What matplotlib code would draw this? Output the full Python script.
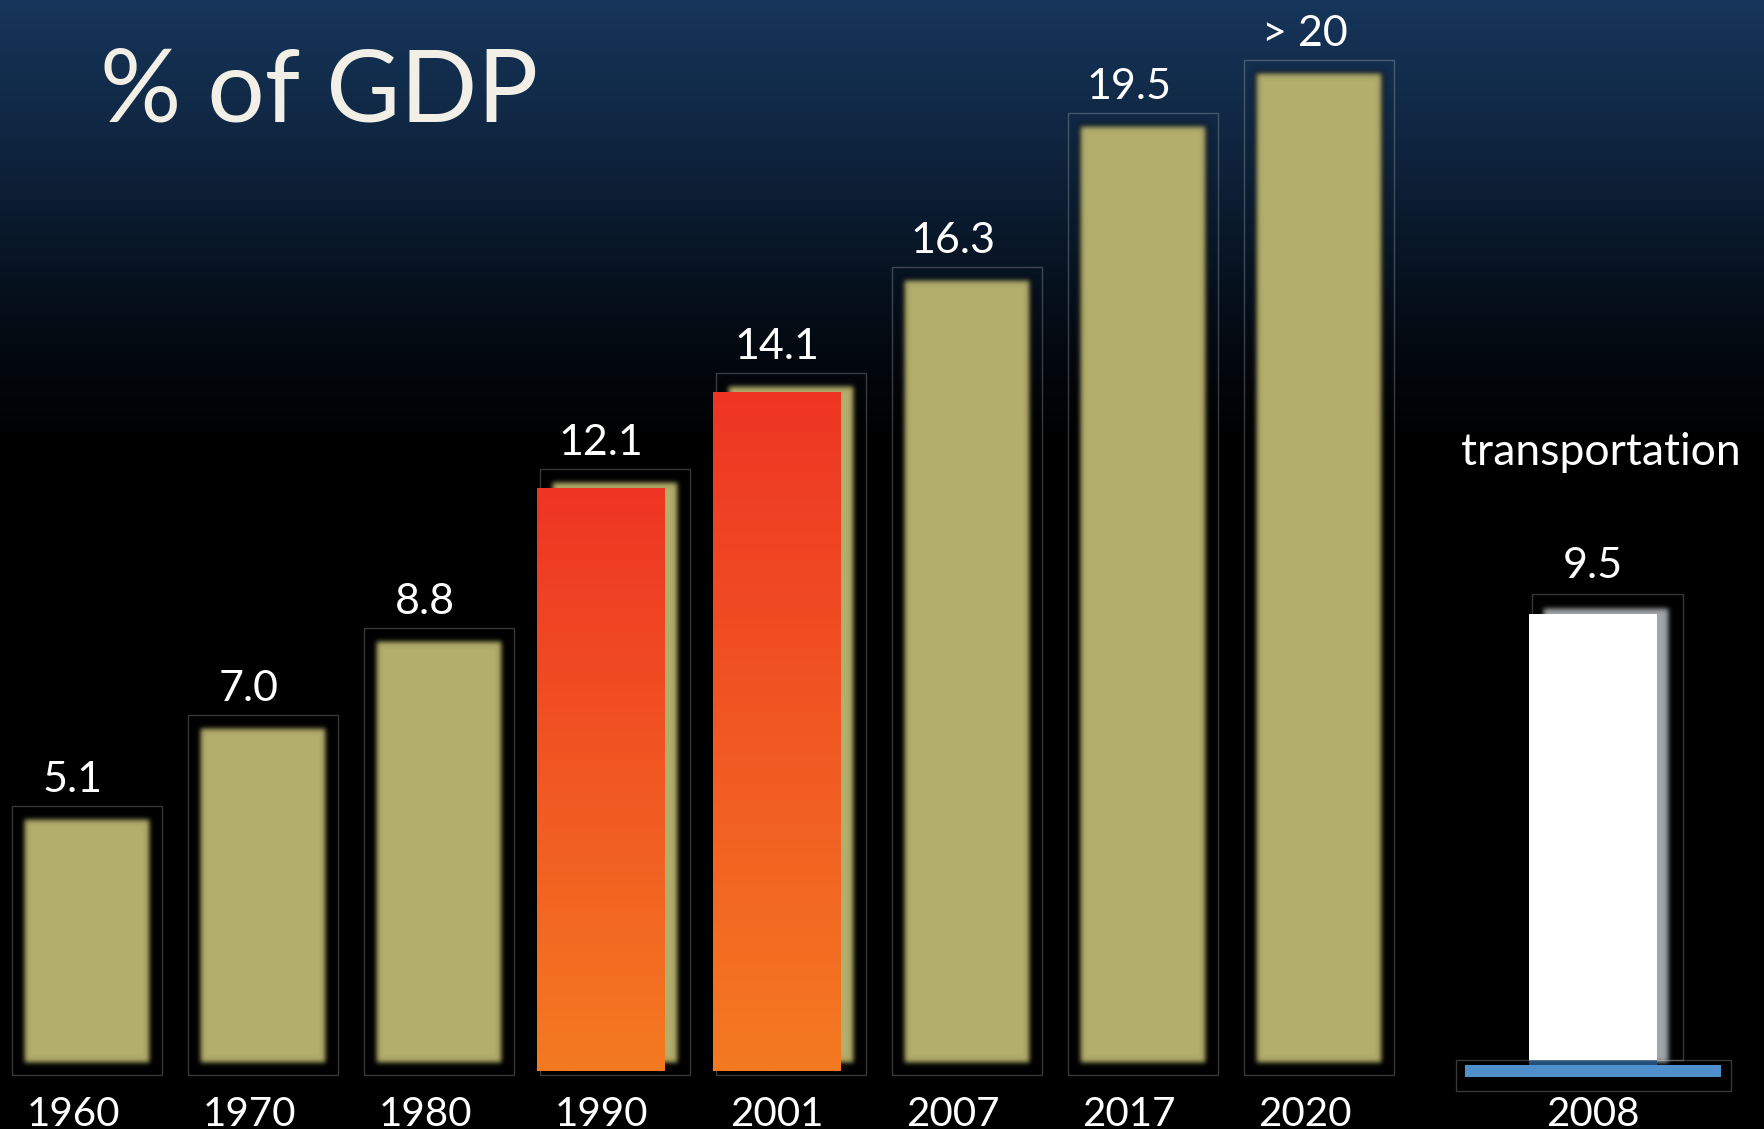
import numpy as np
import matplotlib
matplotlib.use("Agg")
import matplotlib.pyplot as plt
from matplotlib.patches import Rectangle
from matplotlib.colors import LinearSegmentedColormap
from matplotlib.transforms import ScaledTranslation

# ---- data -------------------------------------------------------------
years = ["1960", "1970", "1980", "1990", "2001", "2007", "2017", "2020"]
share = [5.1, 7.0, 8.8, 12.1, 14.1, 16.3, 19.5, 20.6]
value_labels = ["5.1", "7.0", "8.8", "12.1", "14.1", "16.3", "19.5", "> 20"]
highlight_years = ["1990", "2001"]

transport_years = ["2008"]
transport_share = [9.5]
transport_labels = ["9.5"]

title = "% of GDP"
transport_title = "transportation"

# ---- layout / style ---------------------------------------------------
DPI = 100
W, H = 1764, 1129
plt.rcParams["font.family"] = ["Lato", "DejaVu Sans"]

SLOT = 176.0          # px per category
BAR_W = 128.0 / SLOT  # bar width in category units
GLOW = "#b4ae6c"
FRAME = (1, 1, 1, 0.22)
VAL_FS = 31
TICK_FS = 29

fig = plt.figure(figsize=(W / DPI, H / DPI), dpi=DPI)


def px(v):
    """pixels -> points"""
    return v * 72.0 / DPI


def gaussian_blur(sigma):
    r = int(np.ceil(3 * sigma))
    k = np.exp(-0.5 * (np.arange(-r, r + 1) / sigma) ** 2)
    k /= k.sum()

    def filt(im, dpi):
        p = np.pad(im, ((r, r), (r, r), (0, 0)))
        out = np.zeros_like(p)
        for j, kj in enumerate(k):
            out += kj * np.roll(p, j - r, axis=1)
        out2 = np.zeros_like(out)
        for j, kj in enumerate(k):
            out2 += kj * np.roll(out, j - r, axis=0)
        return out2, -r, -r

    return filt


# ---- background: navy fading into black -------------------------------
bg = fig.add_axes([0, 0, 1, 1], zorder=-5)
bg.set_axis_off()
rows = np.arange(H)
stop_y = [0, 120, 250, 350, 440, H]
stop_c = [(22, 53, 90), (16, 40, 68), (8, 22, 38), (3, 9, 16), (0, 0, 0), (0, 0, 0)]
grad = np.stack([np.interp(rows, stop_y, [c[k] for c in stop_c]) for k in range(3)], axis=-1) / 255
bg.imshow(np.repeat(grad[:, None, :], 2, axis=1), aspect="auto", extent=(0, 1, 0, 1), origin="upper")
bg.set_xlim(0, 1)
bg.set_ylim(0, 1)

# ---- main chart ---------------------------------------------------------
PXY = 48.15            # px per percentage point
BASE = 1071            # baseline, px from top
ax = fig.add_axes([0, (H - BASE) / H, 1, BASE / H])
ax.patch.set_alpha(0)
for s in ax.spines.values():
    s.set_visible(False)

x = np.arange(len(years))
glow_shift = ScaledTranslation(14 / DPI, 7 / DPI, fig.dpi_scale_trans)
red_cmap = LinearSegmentedColormap.from_list("redorange", ["#f47a21", "#ee3524"])

for xi, v in zip(x, share):
    frame = Rectangle((xi - BAR_W / 2 + 3 / SLOT, -4 / PXY), BAR_W + 22 / SLOT, v + 23 / PXY,
                      fill=False, edgecolor=FRAME, lw=1.0, zorder=1, clip_on=False)
    ax.add_patch(frame)
    glow = Rectangle((xi - BAR_W / 2, 0), BAR_W, v, transform=ax.transData + glow_shift,
                     facecolor=GLOW, edgecolor="none", zorder=2, clip_on=False)
    glow.set_agg_filter(gaussian_blur(3.0))
    ax.add_patch(glow)

for yr in highlight_years:
    i = years.index(yr)
    ramp = np.linspace(0, 1, 256)[:, None]
    ax.imshow(ramp, cmap=red_cmap, extent=(i - BAR_W / 2, i + BAR_W / 2, 0, share[i]),
              origin="lower", aspect="auto", zorder=3, interpolation="bilinear")

for xi, v, lbl in zip(x, share, value_labels):
    ax.annotate(lbl, (xi, v), xytext=(0, px(33)), textcoords="offset points",
                ha="center", va="baseline", fontsize=VAL_FS, color="white")

ax.set_xlim(-73 / SLOT, (W - 73) / SLOT)
ax.set_ylim(0, BASE / PXY)
ax.set_yticks([])
ax.set_xticks(x, years)
ax.tick_params(axis="x", length=0, pad=px(25), labelsize=TICK_FS, labelcolor="white")

# ---- transportation inset ----------------------------------------------
PXY2 = 46.9
BASE2 = 1059.5
CX2 = 1593
ax2 = fig.add_axes([0, (H - BASE2) / H, 1, BASE2 / H])
ax2.patch.set_alpha(0)
for s in ax2.spines.values():
    s.set_visible(False)
x2 = np.arange(len(transport_years))
shadow_shift = ScaledTranslation(13 / DPI, 0, fig.dpi_scale_trans)

for xi, v, lbl in zip(x2, transport_share, transport_labels):
    ax2.add_patch(Rectangle((xi - 61 / SLOT, 0), 151 / SLOT, v + 19.5 / PXY2, fill=False,
                            edgecolor=FRAME, lw=1.0, zorder=1, clip_on=False))
    shadow = Rectangle((xi - BAR_W / 2, -4.5 / PXY2), BAR_W, v + 11 / PXY2,
                       transform=ax2.transData + shadow_shift, facecolor="#a3a7ab",
                       edgecolor="none", zorder=2, clip_on=False)
    shadow.set_agg_filter(gaussian_blur(3.0))
    ax2.add_patch(shadow)
    ax2.bar(xi, v, width=BAR_W, color="white", zorder=3)
    ax2.add_patch(Rectangle((xi - BAR_W / 2, -5.5 / PXY2), BAR_W, 5.5 / PXY2, facecolor="#234e78",
                            edgecolor="none", zorder=3, clip_on=False))
    ax2.add_patch(Rectangle((xi - 128 / SLOT, -17.5 / PXY2), 256 / SLOT, 12 / PXY2,
                            facecolor="#4f8fcb", edgecolor="none", zorder=4, clip_on=False))
    ax2.add_patch(Rectangle((xi - 137 / SLOT, -31.5 / PXY2), 275 / SLOT, 31.5 / PXY2, fill=False,
                            edgecolor=FRAME, lw=1.0, zorder=4, clip_on=False))
    ax2.annotate(lbl, (xi, v), xytext=(0, px(36)), textcoords="offset points",
                 ha="center", va="baseline", fontsize=VAL_FS, color="white")

ax2.set_xlim(-CX2 / SLOT, (W - CX2) / SLOT)
ax2.set_ylim(0, BASE2 / PXY2)
ax2.set_yticks([])
ax2.set_xticks(x2, transport_years)
ax2.tick_params(axis="x", length=0, pad=px(36), labelsize=TICK_FS, labelcolor="white")

# ---- titles -------------------------------------------------------------
fig.text(100 / W, 1 - 122 / H, title, fontsize=73, color="#f2efe6", ha="left", va="baseline")
fig.text(1601 / W, 1 - 465 / H, transport_title, fontsize=32, color="white",
         ha="center", va="baseline")

fig.savefig("out.png", dpi=DPI, facecolor="black")
